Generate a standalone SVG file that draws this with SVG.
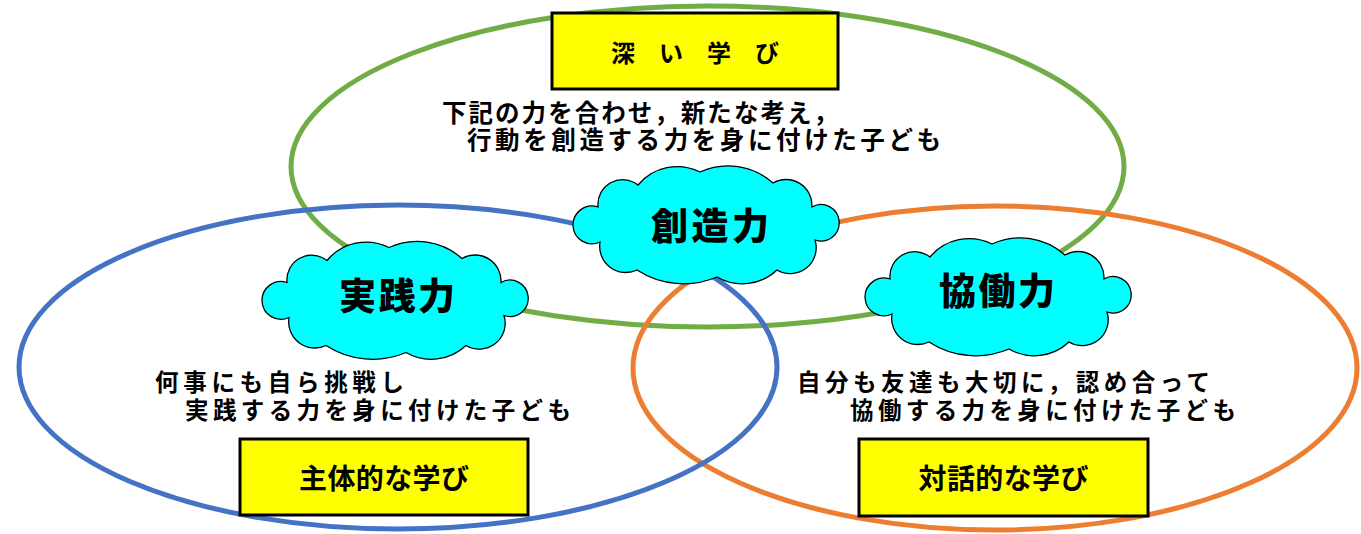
<svg xmlns="http://www.w3.org/2000/svg" xmlns:xlink="http://www.w3.org/1999/xlink" width="1361" height="534" viewBox="0 0 1361 534">
<style>
.ring{fill:none;stroke-width:5}
.box{fill:#FFFF00;stroke:#000;stroke-width:3}
.cloud{fill:#00FFFF;stroke:#000;stroke-width:1.3}
.t{font-family:"Noto Sans CJK JP","Noto Sans CJK SC",sans-serif;font-weight:bold;fill:#000}
.body{font-size:24.5px}
.body2{font-size:23.5px}
.bt{font-size:28px;text-anchor:middle}
.ct{font-family:"Noto Sans CJK JP","Noto Sans CJK SC",sans-serif;font-weight:900;font-size:37px;text-anchor:middle;fill:#000}
</style>
<defs>
<path id="cloudShape" d="M27,75 A18.9,18.9 0 1 1 25,40 A24.8,24.8 0 0 1 65,18 A51,51 0 0 1 127,5 A67.4,67.4 0 0 1 200,16 A26,26 0 0 1 239,40 A18.2,18.2 0 1 1 242,73 A25.9,25.9 0 0 1 204,103 A50.6,50.6 0 0 1 144,110 A85.6,85.6 0 0 1 64,103 A26.2,26.2 0 0 1 27,75 Z"/>
</defs>
<rect width="1361" height="534" fill="#fff"/>
<g id="rings">
<ellipse class="ring" cx="707.5" cy="166.5" rx="416.5" ry="160.5" stroke="#70AD47"/>
<ellipse class="ring" cx="995" cy="368" rx="362" ry="162" stroke="#ED7D31"/>
<ellipse class="ring" cx="398" cy="367" rx="379" ry="162" stroke="#4472C4"/>
</g>
<g id="deep-learning">
<rect class="box" x="552" y="13" width="286" height="76"/>
<text class="t" x="611" y="62" font-size="24">深　い　学　び</text>
</g>
<g id="deep-desc">
<text class="t body" x="442" y="122" textLength="396" lengthAdjust="spacing">下記の力を合わせ，新たな考え，</text>
<text class="t body" x="467" y="149" textLength="474" lengthAdjust="spacing">行動を創造する力を身に付けた子ども</text>
</g>
<g id="creativity">
<use xlink:href="#cloudShape" class="cloud" transform="translate(573,167)"/>
<text class="ct" x="710" y="240" textLength="118" lengthAdjust="spacing">創造力</text>
</g>
<g id="practice">
<use xlink:href="#cloudShape" class="cloud" transform="translate(262,242.5)"/>
<text class="ct" x="397" y="310" textLength="116" lengthAdjust="spacing">実践力</text>
</g>
<g id="collaboration">
<use xlink:href="#cloudShape" class="cloud" transform="translate(865,239)"/>
<text class="ct" x="997" y="305" textLength="116" lengthAdjust="spacing">協働力</text>
</g>
<g id="practice-desc">
<text class="t body2" x="155" y="391" textLength="249" lengthAdjust="spacing">何事にも自ら挑戦し</text>
<text class="t body2" x="185" y="419" textLength="386" lengthAdjust="spacing">実践する力を身に付けた子ども</text>
</g>
<g id="collab-desc">
<text class="t body2" x="797" y="391" textLength="413" lengthAdjust="spacing">自分も友達も大切に，認め合って</text>
<text class="t body2" x="850" y="419" textLength="386" lengthAdjust="spacing">協働する力を身に付けた子ども</text>
</g>
<g id="active-learning">
<rect class="box" x="240" y="439" width="288" height="76"/>
<text class="t bt" x="384" y="489" textLength="170" lengthAdjust="spacing">主体的な学び</text>
</g>
<g id="dialogic-learning">
<rect class="box" x="859" y="439" width="289" height="77"/>
<text class="t bt" x="1003.5" y="489" textLength="170" lengthAdjust="spacing">対話的な学び</text>
</g>
</svg>
